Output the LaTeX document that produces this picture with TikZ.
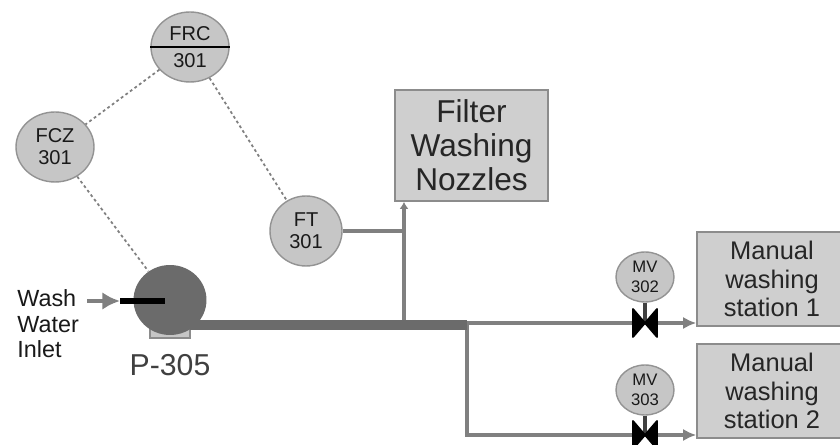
\documentclass[tikz,border=0pt]{standalone}
\usepackage{fontspec}
\setmainfont{Liberation Sans}
\usetikzlibrary{shapes.geometric,arrows.meta}

\begin{document}
\begin{tikzpicture}[x=0.02cm, y=-0.02cm,
    instr/.style={ellipse, draw=gray!85, fill=gray!45, line width=0.8pt, inner sep=0pt, minimum width=1.56cm, minimum height=1.4cm,
      align=center, text=black!90, font=\fontsize{11.4}{12.6}\selectfont},
    smallinstr/.style={instr, minimum width=1.16cm, minimum height=1cm, font=\fontsize{9.5}{11.2}\selectfont},
    unitbox/.style={rectangle, draw=gray!90, fill=gray!38, line width=0.9pt, inner sep=0pt, align=center, text=black!85},
    signal/.style={gray, line width=1pt, dash pattern=on 1.6pt off 1.6pt},
    pipe/.style={draw=black!50, line width=2pt},
    mainpipe/.style={draw=black!58, line width=5.8pt},
    flow/.style={pipe, -{Latex[length=7.5pt,width=7pt]}},
    valve/.style={fill=black, draw=black, line width=1pt, line join=round}]
      \clip (0,0) rectangle (840,445);
      \fill[white] (0,0) rectangle (840,445);

      % instruments
      \node[instr] (frc) at (190,47) {FRC\\[3.2pt]301};
      \node[instr] (fcz) at (55,147) {FCZ\\301};
      \node[instr, minimum width=1.44cm] (ft) at (306,231) {FT\\301};
      \node[smallinstr] (mva) at (645,277) {MV\\302};
      \node[smallinstr] (mvb) at (645,390) {MV\\303};
      \draw[black, line width=1.5pt] (frc.west) -- (frc.east);

      % equipment
      \node[unitbox, minimum width=3.06cm, minimum height=2.22cm, font=\fontsize{18}{19.4}\selectfont] (filter) at (471.5,145.5) {Filter\\Washing\\Nozzles};
      \node[unitbox, minimum width=3cm, minimum height=1.88cm, font=\fontsize{14.5}{16}\selectfont] (stationa) at (772,279) {Manual\\washing\\station 1};
      \node[unitbox, minimum width=3cm, minimum height=1.88cm, font=\fontsize{14.5}{16}\selectfont] (stationb) at (772,391) {Manual\\washing\\station 2};
      \node[rectangle, draw=gray!90, fill=gray!45, line width=0.8pt, minimum width=0.8cm, minimum height=0.28cm, inner sep=0pt] (base) at (170,331) {};

      % pipe junctions
      \coordinate (pumpout) at (190,325);
      \coordinate (tee) at (404,325);
      \coordinate (split) at (467,325);
      \coordinate (ftjoin) at (404,231);
      \coordinate (inlet) at (87,301);
      \coordinate (shaft) at (165,301);
      \coordinate (valvea) at (645,323);
      \coordinate (valveb) at (645,435);

      \draw[pipe] (tee) -- (ftjoin);
      \draw[pipe, -{Latex[length=4pt,width=5pt]}] (ftjoin) -- (filter.south -| ftjoin);
      \draw[pipe] (ft) -- (ftjoin);
      \draw[flow] (split |- valvea) -- (valvea) -- (stationa.west |- valvea);
      \draw[flow] (split) -- (split |- valveb) -- (stationb.west |- valveb);
      \draw[mainpipe] (pumpout) -- (split);

      % pump
      \node[ellipse, fill=black!58, minimum width=1.46cm, minimum height=1.4cm, inner sep=0pt] (pump) at (170,300) {};
      \draw[pipe, line width=2.6pt, -{Latex[length=10pt,width=10pt]}] (inlet) -- (120,301);
      \draw[black, line width=3.2pt] (120,301) -- (shaft);
      \node[anchor=north west, inner sep=0pt, align=left, text=black!90, font=\fontsize{13.3}{14.7}\selectfont] (washlabel) at (17,289) {Wash\\Water\\Inlet};
      \node[text=black!75, inner sep=0pt, font=\fontsize{17.2}{19}\selectfont] (pumplabel) at (170,365) {P-305};

      % signal lines
      \draw[signal] (frc) -- (fcz);
      \draw[signal] (frc) -- (ft);
      \draw[signal] (fcz) -- (pump);

      % manual valves
      \draw[black!75, line width=2pt] (mva) -- (valvea);
      \draw[black!75, line width=2pt] (mvb) -- (valveb);
      \filldraw[valve] (valvea) ++(-12,-14) -- ++(24,28) -- ++(0,-28) -- ++(-24,28) -- cycle;
      \filldraw[valve] (valveb) ++(-12,-14) -- ++(24,28) -- ++(0,-28) -- ++(-24,28) -- cycle;
    \end{tikzpicture}
\end{document}
